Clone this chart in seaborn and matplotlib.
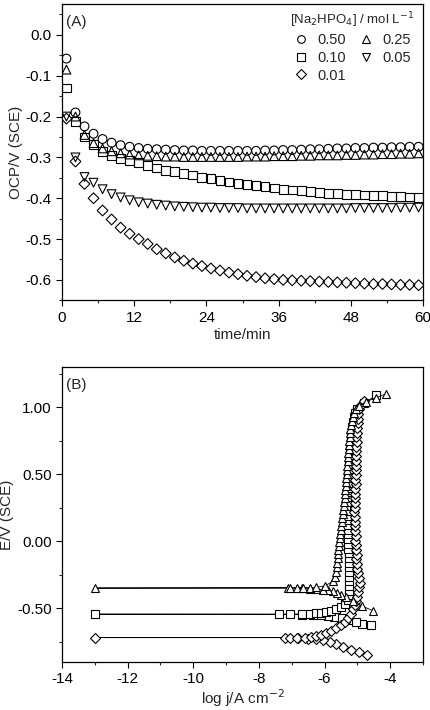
import matplotlib
matplotlib.use("Agg")
import matplotlib.pyplot as plt
from matplotlib.lines import Line2D
from matplotlib.ticker import MultipleLocator, FormatStrFormatter
import seaborn as sns
import pandas as pd

# ---- panel A: open circuit potential vs time ----
time_min = [0.75, 2.25, 3.75, 5.25, 6.75, 8.25, 9.75, 11.25, 12.75, 14.25,
            15.75, 17.25, 18.75, 20.25, 21.75, 23.25, 24.75, 26.25, 27.75, 29.25,
            30.75, 32.25, 33.75, 35.25, 36.75, 38.25, 39.75, 41.25, 42.75, 44.25,
            45.75, 47.25, 48.75, 50.25, 51.75, 53.25, 54.75, 56.25, 57.75, 59.25]
ocp_050 = [-0.058, -0.190, -0.224, -0.242, -0.255, -0.264, -0.270, -0.274, -0.277, -0.279,
           -0.280, -0.281, -0.282, -0.283, -0.283, -0.284, -0.284, -0.284, -0.284, -0.284,
           -0.284, -0.284, -0.283, -0.283, -0.282, -0.282, -0.281, -0.280, -0.280, -0.279,
           -0.278, -0.278, -0.277, -0.277, -0.276, -0.276, -0.275, -0.275, -0.274, -0.274]
ocp_025 = [-0.085, -0.200, -0.245, -0.265, -0.278, -0.285, -0.290, -0.293, -0.295, -0.296,
           -0.297, -0.298, -0.298, -0.299, -0.299, -0.299, -0.299, -0.299, -0.299, -0.299,
           -0.298, -0.298, -0.298, -0.297, -0.297, -0.297, -0.296, -0.296, -0.295, -0.295,
           -0.295, -0.294, -0.294, -0.293, -0.293, -0.292, -0.292, -0.291, -0.291, -0.290]
ocp_010 = [-0.130, -0.213, -0.250, -0.268, -0.286, -0.295, -0.303, -0.307, -0.312, -0.320,
           -0.326, -0.332, -0.335, -0.339, -0.343, -0.349, -0.352, -0.356, -0.360, -0.363,
           -0.366, -0.369, -0.372, -0.375, -0.378, -0.380, -0.382, -0.384, -0.386, -0.388,
           -0.389, -0.390, -0.391, -0.392, -0.393, -0.394, -0.395, -0.396, -0.397, -0.398]
ocp_005 = [-0.200, -0.300, -0.348, -0.362, -0.378, -0.390, -0.398, -0.405, -0.410, -0.413,
           -0.416, -0.418, -0.420, -0.421, -0.422, -0.423, -0.423, -0.424, -0.424, -0.424,
           -0.425, -0.425, -0.425, -0.425, -0.425, -0.425, -0.425, -0.425, -0.425, -0.425,
           -0.425, -0.425, -0.424, -0.424, -0.424, -0.424, -0.424, -0.423, -0.423, -0.423]
ocp_001 = [-0.205, -0.310, -0.365, -0.400, -0.430, -0.452, -0.472, -0.487, -0.500, -0.512,
           -0.525, -0.535, -0.545, -0.553, -0.560, -0.566, -0.572, -0.577, -0.582, -0.586,
           -0.590, -0.593, -0.596, -0.598, -0.600, -0.601, -0.602, -0.603, -0.604, -0.605,
           -0.606, -0.607, -0.608, -0.609, -0.610, -0.610, -0.611, -0.612, -0.612, -0.613]

# ---- panel B: polarization curves (log j, E) ----
tri_logj = [-4.52, -4.85, -5.15, -5.35, -5.50, -5.62, -5.75, -5.90, -6.05, -6.25, -6.45, -6.70, -7.10,
            -13.0,
            -7.05, -6.85, -6.65, -6.45, -6.25, -6.00, -5.75, -5.68, -5.65, -5.63, -5.62, -5.60,
            -5.60, -5.58, -5.56, -5.55, -5.53, -5.52, -5.50, -5.49, -5.47, -5.46, -5.44, -5.43,
            -5.42, -5.40, -5.39, -5.38, -5.37, -5.36, -5.35, -5.34, -5.33, -5.32, -5.31, -5.30,
            -5.29, -5.28, -5.27, -5.26, -5.25, -5.24, -5.23, -5.22, -5.20, -5.18, -5.15, -5.12,
            -5.05, -4.95, -4.75, -4.45, -4.12]
tri_E = [-0.520, -0.485, -0.445, -0.420, -0.400, -0.385, -0.375, -0.368, -0.362, -0.358, -0.355, -0.352, -0.350,
         -0.350,
         -0.348, -0.348, -0.347, -0.346, -0.344, -0.335, -0.300, -0.265, -0.230, -0.190, -0.160, -0.125,
         -0.095, -0.065, -0.035, -0.005, 0.025, 0.055, 0.085, 0.115, 0.145, 0.175, 0.205, 0.235,
         0.265, 0.295, 0.325, 0.355, 0.385, 0.415, 0.445, 0.475, 0.505, 0.535, 0.565, 0.595,
         0.625, 0.655, 0.685, 0.715, 0.745, 0.775, 0.805, 0.835, 0.865, 0.895, 0.925, 0.955,
         0.985, 1.010, 1.040, 1.070, 1.100]

sq_logj = [-4.60, -4.85, -5.05, -5.30, -5.50, -5.70, -5.90, -6.10, -6.35, -6.70, -7.40,
           -13.0,
           -7.05, -6.70, -6.45, -6.25, -6.10, -5.95, -5.80, -5.65, -5.50, -5.38, -5.30, -5.26,
           -5.25, -5.25, -5.25, -5.25, -5.25, -5.26, -5.26, -5.27, -5.27, -5.28, -5.28, -5.29,
           -5.30, -5.30, -5.31, -5.32, -5.33, -5.33, -5.34, -5.33, -5.32, -5.31, -5.30, -5.29,
           -5.28, -5.27, -5.26, -5.25, -5.24, -5.23, -5.22, -5.21, -5.20, -5.19, -5.18, -5.16,
           -5.14, -5.12, -5.08, -5.00, -4.80, -4.42]
sq_E = [-0.628, -0.615, -0.600, -0.587, -0.575, -0.565, -0.558, -0.553, -0.550, -0.548, -0.546,
        -0.545,
        -0.545, -0.543, -0.541, -0.538, -0.534, -0.528, -0.518, -0.505, -0.490, -0.470, -0.440, -0.405,
        -0.370, -0.335, -0.300, -0.265, -0.230, -0.195, -0.160, -0.125, -0.090, -0.055, -0.020, 0.015,
        0.050, 0.085, 0.120, 0.155, 0.190, 0.225, 0.260, 0.295, 0.330, 0.365, 0.400, 0.435,
        0.470, 0.505, 0.540, 0.575, 0.610, 0.645, 0.680, 0.715, 0.750, 0.785, 0.820, 0.855,
        0.890, 0.925, 0.960, 0.990, 1.030, 1.090]

dia_logj = [-4.70, -4.95, -5.20, -5.45, -5.65, -5.85, -6.05, -6.25, -6.50, -6.80, -7.20,
            -13.0,
            -7.05, -6.85, -6.60, -6.40, -6.25, -6.10, -5.95, -5.80, -5.65, -5.50, -5.38, -5.28,
            -5.20, -5.13, -5.08, -5.05, -5.00, -4.98, -4.95, -4.93, -4.95, -4.98, -5.00, -5.02,
            -5.03, -5.02, -5.04, -5.05, -5.06, -5.05, -5.07, -5.08, -5.07, -5.08, -5.09, -5.08,
            -5.07, -5.08, -5.07, -5.06, -5.05, -5.06, -5.05, -5.04, -5.05, -5.04, -5.03, -5.04,
            -5.03, -5.02, -5.03, -5.02, -5.00, -4.99, -4.98, -4.97, -4.95, -4.90, -4.80]
dia_E = [-0.852, -0.830, -0.810, -0.790, -0.768, -0.750, -0.740, -0.733, -0.727, -0.723, -0.720,
         -0.720,
         -0.720, -0.720, -0.720, -0.717, -0.710, -0.700, -0.686, -0.670, -0.650, -0.628, -0.600, -0.570,
         -0.540, -0.510, -0.480, -0.450, -0.415, -0.380, -0.345, -0.310, -0.275, -0.240, -0.205, -0.170,
         -0.135, -0.100, -0.065, -0.030, 0.005, 0.040, 0.075, 0.110, 0.145, 0.180, 0.215, 0.250,
         0.285, 0.320, 0.355, 0.390, 0.425, 0.460, 0.495, 0.530, 0.565, 0.600, 0.635, 0.670,
         0.705, 0.740, 0.775, 0.810, 0.845, 0.880, 0.915, 0.950, 0.985, 1.020, 1.050]

conc_labels = ["0.50", "0.25", "0.10", "0.05", "0.01"]
conc_markers = ["o", "^", "s", "v", "D"]

sns.set_style("ticks")
plt.rcParams["font.family"] = ["Liberation Sans", "DejaVu Sans"]
plt.rcParams["axes.unicode_minus"] = False
plt.rcParams["xtick.direction"] = "out"
plt.rcParams["ytick.direction"] = "out"

fig = plt.figure(figsize=(4.3, 7.1), dpi=100)
ax1 = fig.add_axes([0.144, 0.577, 0.840, 0.417])
ax2 = fig.add_axes([0.144, 0.068, 0.840, 0.415])

# panel A
ocp_series = [ocp_050, ocp_025, ocp_010, ocp_005, ocp_001]
df_a = pd.concat([pd.DataFrame({"t": time_min, "ocp": vals, "conc": lab})
                  for lab, vals in zip(conc_labels, ocp_series)], ignore_index=True)
for lab, mk in zip(conc_labels, conc_markers):
    sub = df_a[df_a["conc"] == lab]
    size = 30 if mk == "D" else 40
    sns.scatterplot(data=sub, x="t", y="ocp", ax=ax1, marker=mk, s=size,
                    facecolor="none", edgecolor="black", linewidth=0.8, legend=False)

ax1.set_xlim(0, 60)
ax1.set_ylim(-0.65, 0.075)
ax1.xaxis.set_major_locator(MultipleLocator(12))
ax1.xaxis.set_minor_locator(MultipleLocator(6))
ax1.yaxis.set_major_locator(MultipleLocator(0.1))
ax1.yaxis.set_minor_locator(MultipleLocator(0.05))
ax1.yaxis.set_major_formatter(FormatStrFormatter("%.1f"))
ax1.set_xlabel("time/min", fontsize=11, labelpad=2)
ax1.set_ylabel("OCP/V (SCE)", fontsize=11, labelpad=2)
ax1.text(0.010, 0.94, "(A)", transform=ax1.transAxes, fontsize=11, va="center", ha="left")

order = [0, 2, 4, 1, 3]
handles = [Line2D([], [], ls="", marker=conc_markers[i], mfc="none", mec="black",
                  mew=0.8, ms=5 if conc_markers[i] == "D" else 5.5) for i in order]
leg = ax1.legend(handles, [conc_labels[i] for i in order], ncol=2, frameon=False,
                 loc="upper right", bbox_to_anchor=(1.0, 1.01),
                 title="[Na$_2$HPO$_4$] / mol L$^{-1}$", title_fontsize=9.5, fontsize=10.5,
                 handletextpad=0.6, columnspacing=0.9, labelspacing=0.25, handlelength=1.0,
                 borderaxespad=0.2)

# panel B
curves = [("s", sq_logj, sq_E), ("D", dia_logj, dia_E), ("^", tri_logj, tri_E)]
for mk, xs, ys in curves:
    sns.lineplot(x=xs, y=ys, ax=ax2, sort=False, estimator=None, color="black",
                 linewidth=0.6, marker=mk, markersize=5.2 if mk == "D" else 6,
                 markerfacecolor="white", markeredgecolor="black", markeredgewidth=0.8)

ax2.set_xlim(-14, -3)
ax2.set_ylim(-0.9, 1.3)
ax2.xaxis.set_major_locator(MultipleLocator(2))
ax2.xaxis.set_minor_locator(MultipleLocator(1))
ax2.yaxis.set_major_locator(MultipleLocator(0.5))
ax2.yaxis.set_minor_locator(MultipleLocator(0.25))
ax2.yaxis.set_major_formatter(FormatStrFormatter("%.2f"))
ax2.set_xlabel("log j/A cm$^{-2}$", fontsize=11, labelpad=1)
ax2.set_ylabel("E/V (SCE)", fontsize=11, labelpad=2)
ax2.text(0.010, 0.94, "(B)", transform=ax2.transAxes, fontsize=11, va="center", ha="left")

for ax in (ax1, ax2):
    for sp in ax.spines.values():
        sp.set_visible(True)
        sp.set_linewidth(0.9)
        sp.set_color("black")
    ax.tick_params(which="major", length=4, width=0.8, labelsize=11, colors="black")
    ax.tick_params(which="minor", length=2.5, width=0.8)
    ax.tick_params(top=False, right=False)

fig.savefig("out.png", dpi=100)
